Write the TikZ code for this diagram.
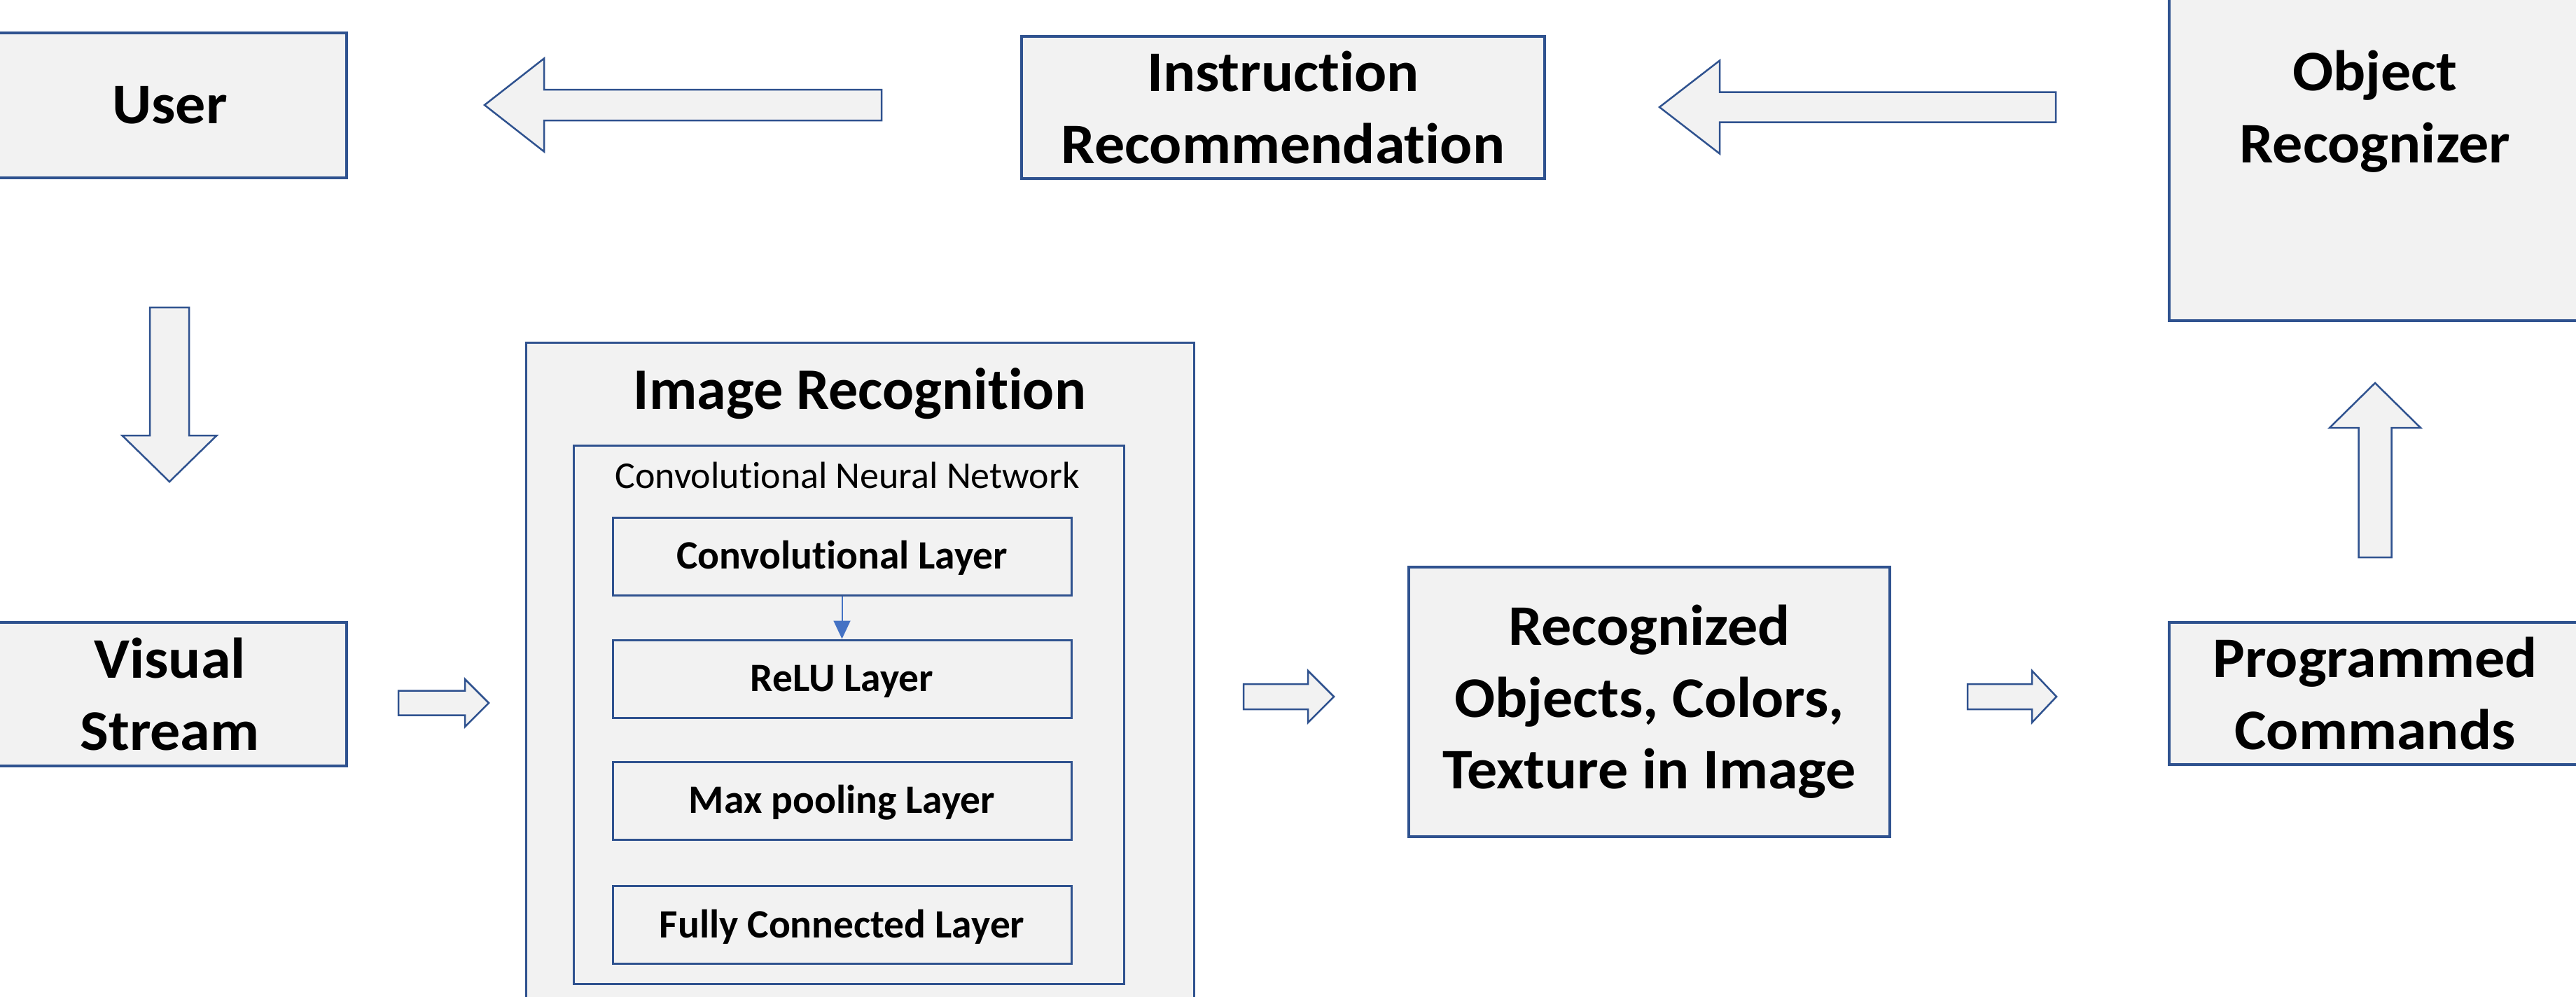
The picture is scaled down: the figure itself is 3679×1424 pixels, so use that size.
\documentclass[tikz,border=0pt]{standalone}
\usepackage{fontspec}
\setmainfont{Carlito}[Ligatures=NoCommon]
\newfontfamily\boxfont{Carlito}[Ligatures=NoCommon, FakeStretch=1.05]
\usetikzlibrary{arrows.meta}
\definecolor{boxfill}{HTML}{F2F2F2}
\definecolor{boxline}{HTML}{2F528F}
\definecolor{innerarrow}{HTML}{4472C4}
\newcommand{\harrowshape}[6]{% tail x, head-back x, tip x, centre y, shaft half, head half
  \draw[blockarrow] (#1,{#4-#5}) -- (#2,{#4-#5}) -- (#2,{#4-#6}) -- (#3,#4)
    -- (#2,{#4+#6}) -- (#2,{#4+#5}) -- (#1,{#4+#5}) -- cycle;}
\newcommand{\varrowshape}[6]{% tail y, head-back y, tip y, centre x, shaft half, head half
  \draw[blockarrow] ({#4-#5},#1) -- ({#4-#5},#2) -- ({#4-#6},#2) -- (#4,#3)
    -- ({#4+#6},#2) -- ({#4+#5},#2) -- ({#4+#5},#1) -- cycle;}
\begin{document}
\begin{tikzpicture}[x=0.5pt,y=-0.5pt,
  mainbox/.style={draw=boxline, fill=boxfill, line width=1.75pt, inner sep=0pt,
    align=center, font=\boxfont\fontsize{41}{51.25}\selectfont\bfseries},
  framebox/.style={draw=boxline, fill=boxfill, line width=1.5pt, inner sep=0pt},
  layerbox/.style={draw=boxline, fill=boxfill, line width=1.5pt, inner sep=0pt,
    minimum width=327.5pt, minimum height=55.5pt, text height=18.2pt, text depth=0pt,
    font=\fontsize{28.75}{35}\selectfont\bfseries},
  titletext/.style={inner sep=0pt, font=\fontsize{42}{51}\selectfont\bfseries},
  cnntext/.style={inner sep=0pt, font=\fontsize{27}{33}\selectfont},
  blockarrow/.style={draw=boxline, fill=boxfill, line width=1.25pt, line join=miter},
  smallarrow/.style={draw=innerarrow, line width=1pt, -{Triangle[width=12pt,length=13pt]}}
]
\useasboundingbox (0,0) rectangle (3679,1424);
\fill[white] (0,0) rectangle (3679,1424);

% top row
\node[mainbox, minimum width=252.5pt, minimum height=103.5pt, text height=26pt, text depth=0pt]
  (user) at (242.5,150.5) {User};
\node[mainbox, minimum width=373.5pt, minimum height=101.5pt]
  (instr) at (1832.5,153.5) {Instruction\\Recommendation};
\node[mainbox, minimum width=294pt, minimum height=299pt]
  (obj) at (3392,159) {Object\\Recognizer};

% bottom row
\node[mainbox, minimum width=252.5pt, minimum height=102.5pt]
  (vis) at (242.5,991.5) {Visual\\Stream};
\node[framebox, minimum width=477pt, minimum height=505.5pt] (imgrec) at (1228,994.5) {};
\node[titletext, anchor=base] (imgtitle) at (1228,584) {Image Recognition};
\node[framebox, minimum width=393pt, minimum height=384.5pt] (cnn) at (1212,1020.5) {};
\node[cnntext, anchor=base] (cnnlabel) at (1210,697) {Convolutional Neural Network};
\node[layerbox] (conv) at (1202.5,794.5) {Convolutional Layer};
\node[layerbox] (relu) at (1202.5,969.5) {ReLU Layer};
\node[layerbox] (maxp) at (1202.5,1143.5) {Max pooling Layer};
\node[layerbox] (fc)   at (1202.5,1321) {Fully Connected Layer};
\node[mainbox, minimum width=343.5pt, minimum height=192.5pt]
  (recog) at (2355.5,1002.5) {Recognized\\Objects, Colors,\\Texture in Image};
\node[mainbox, minimum width=294pt, minimum height=101.5pt]
  (prog) at (3392,990.5) {Programmed\\Commands};

% inner connector
\draw[smallarrow] (conv.south) -- (relu.north);

% block arrows
\harrowshape{1259}{777}{692}{150}{22}{66.5}      % instr -> user
\harrowshape{2936}{2456}{2370}{153}{21.5}{66.5}  % obj -> instr
\varrowshape{439}{622}{688}{242}{28}{67.5}       % user -> vis
\harrowshape{569}{664}{698}{1004}{17.5}{34}      % vis -> imgrec
\harrowshape{1776}{1868}{1905}{995}{18}{37}      % imgrec -> recog
\harrowshape{2810}{2902}{2937}{995}{18}{37}      % recog -> prog
\varrowshape{796}{611}{547}{3392}{23.5}{65}      % prog -> obj
\end{tikzpicture}
\end{document}
